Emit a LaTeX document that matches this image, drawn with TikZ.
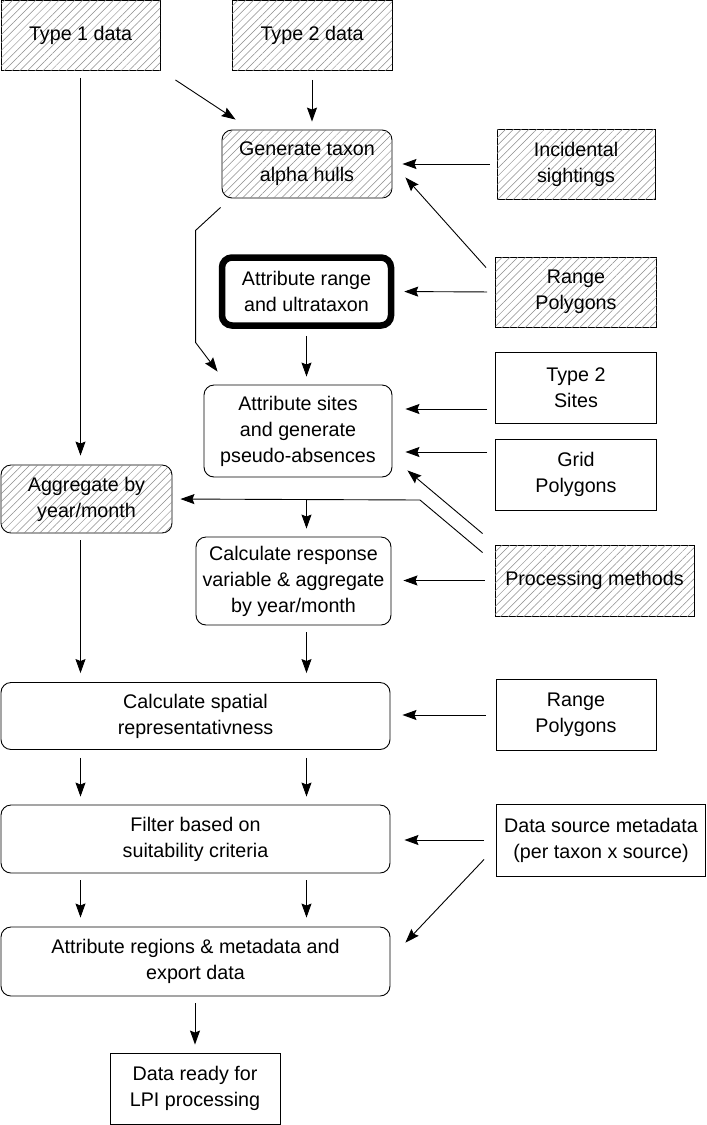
\documentclass[tikz,border=0pt]{standalone}
\usepackage{fontspec}
\setmainfont{Liberation Sans}
\usetikzlibrary{arrows.meta,patterns.meta}

\begin{document}
\begin{tikzpicture}[x=1pt, y=-1pt, >={Stealth[length=14pt,width=10pt,inset=2pt]},
			font=\fontsize{19.7pt}{26pt}\selectfont,
			box/.style={
				draw,
				line width=0.9pt,
				align=center,
				inner sep=0pt,
				fill=white},
			hatchbox/.style={
				box,
				postaction={pattern={Lines[angle=45,distance=5.5pt,line width=0.5pt]},
					pattern color=black!45}},
			roundbox/.style={box, rounded corners=10pt},
			hatchround/.style={hatchbox, rounded corners=10pt},
			keybox/.style={box, rounded corners=10pt, line width=6.5pt},
			arr/.style={->, line width=0.9pt}]
			\useasboundingbox (0,0) rectangle (707,1125);
			% sources on the top and right
			\node (typeone) at (80.5, 35.5) [hatchbox, minimum width=159, minimum height=70] {Type 1 data};
			\node (typetwo) at (312, 35.5) [hatchbox, minimum width=160, minimum height=70] {Type 2 data};
			\node (incid) at (576, 164) [hatchbox, minimum width=158, minimum height=70] {Incidental\\sightings};
			\node (rangeA) at (576, 292) [hatchbox, minimum width=161, minimum height=70] {Range\\Polygons};
			\node (sitestwo) at (576, 387.5) [box, minimum width=161, minimum height=71] {Type 2\\Sites};
			\node (grid) at (576, 474.5) [box, minimum width=161, minimum height=71] {Grid\\Polygons};
			\node (methods) at (594.5, 580.5) [hatchbox, minimum width=199, minimum height=71] {Processing methods};
			\node (rangeB) at (576, 714.5) [box, minimum width=160, minimum height=71] {Range\\Polygons};
			\node (meta) at (601, 840) [box, minimum width=209, minimum height=72] {Data source metadata\\(per taxon x source)};
			% processing steps
			\node (hulls) at (307, 164) [hatchround, minimum width=170, minimum height=68] {Generate taxon\\alpha hulls};
			\node (ultra) at (306.5, 291.5) [keybox, minimum width=169, minimum height=68] {Attribute range\\and ultrataxon};
			\node (sites) at (298, 431) [roundbox, minimum width=188, minimum height=92] {Attribute sites\\and generate\\pseudo-absences};
			\node (aggr) at (86.5, 499) [hatchround, minimum width=171, minimum height=68] {Aggregate by\\year/month};
			\node (resp) at (293.5, 581) [roundbox, minimum width=195, minimum height=88] {Calculate response\\variable \& aggregate\\by year/month};
			\node (spatial) at (195.5, 716) [roundbox, minimum width=389, minimum height=67] {Calculate spatial\\representativness};
			\node (filter) at (195.5, 839) [roundbox, minimum width=389, minimum height=68] {Filter based on\\suitability criteria};
			\node (regions) at (195.5, 961.5) [roundbox, minimum width=389, minimum height=69] {Attribute regions \& metadata and\\export data};
			\node (ready) at (195, 1088.5) [box, minimum width=170, minimum height=71] {Data ready for\\LPI processing};
			% connectors
			\draw[arr, shorten <=7pt, shorten >=9pt] (typeone.south) -- (typeone.south |- aggr.north);
			\draw[arr] ([shift={(15,9)}]typeone.south east) -- ([shift={(14,-10)}]hulls.north west);
			\draw[arr, shorten <=9pt, shorten >=8pt] (typetwo.south) -- (typetwo.south |- hulls.north);
			\draw[arr] ([shift={(-1,9)}]hulls.south west) -- ++(-25,23) -- ++(0,112) -- ([shift={(14,-13)}]sites.north west);
			\draw[arr, shorten <=7pt, shorten >=10pt] (incid.west) -- (hulls.east);
			\draw[arr] ([shift={(-9,11)}]rangeA.north west) -- ([shift={(13,-21)}]hulls.south east);
			\draw[arr, shorten <=8pt, shorten >=10pt] (rangeA.west) -- (ultra.east);
			\draw[arr, shorten <=7pt, shorten >=8pt] (ultra.south) -- (ultra.south |- sites.north);
			\draw[arr, shorten <=8pt, shorten >=13pt] ([yshift=-21.5pt]sitestwo.west) -- ([yshift=-21.5pt]sitestwo.west -| sites.east);
			\draw[arr, shorten <=8pt, shorten >=13pt] ([yshift=22.5pt]grid.west) -- ([yshift=22.5pt]grid.west -| sites.east);
			\draw[arr] ([shift={(-12,-11)}]methods.north west) -- ([shift={(15,-7)}]sites.south east);
			\draw[arr, shorten >=8pt] ([shift={(-12,8)}]methods.north west) -- (420,500) -- (aggr.east);
			\draw[arr, shorten <=23pt, shorten >=8pt] (ultra.south |- sites.south) -- (ultra.south |- resp.north);
			\draw[arr, shorten <=10pt, shorten >=12pt] (methods.west) -- (methods.west -| resp.east);
			\draw[arr, shorten <=7pt, shorten >=9pt] (typeone.south |- aggr.south) -- (typeone.south |- spatial.north);
			\draw[arr, shorten <=7pt, shorten >=9pt] (ultra.south |- resp.south) -- (ultra.south |- spatial.north);
			\draw[arr, shorten <=10pt, shorten >=12pt] ([yshift=-0.5pt]rangeB.west) -- ([yshift=-0.5pt]rangeB.west -| spatial.east);
			\draw[arr, shorten <=8pt, shorten >=8pt] (typeone.south |- spatial.south) -- (typeone.south |- filter.north);
			\draw[arr, shorten <=8pt, shorten >=8pt] (ultra.south |- spatial.south) -- (ultra.south |- filter.north);
			\draw[arr, shorten <=12pt, shorten >=14pt] (meta.west) -- (meta.west -| filter.east);
			\draw[arr, shorten <=7pt, shorten >=9pt] (typeone.south |- filter.south) -- (typeone.south |- regions.north);
			\draw[arr, shorten <=7pt, shorten >=9pt] (ultra.south |- filter.south) -- (ultra.south |- regions.north);
			\draw[arr] ([shift={(-12,-17)}]meta.south west) -- ([shift={(15,16)}]regions.north east);
			\draw[arr, shorten <=7pt, shorten >=8pt] (regions.south -| ready.north) -- (ready.north);
			\end{tikzpicture}
\end{document}
